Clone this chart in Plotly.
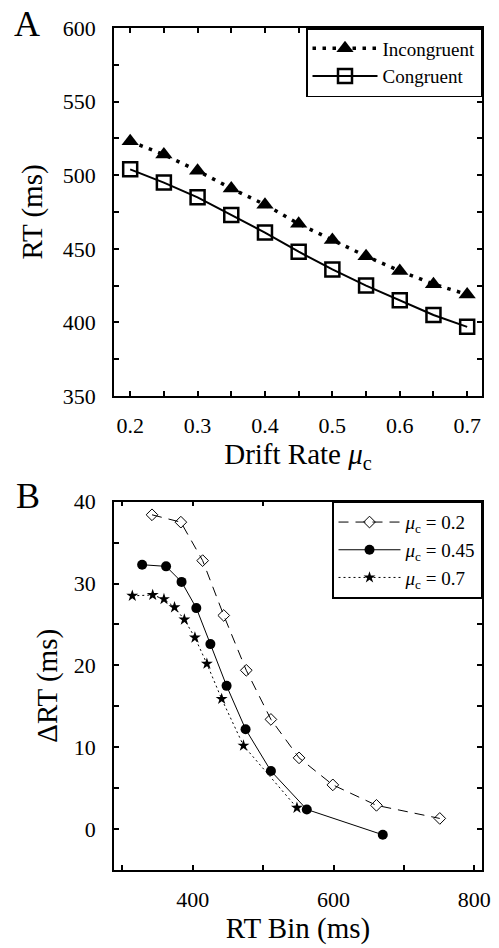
import plotly.graph_objects as go

# ---------------- data ----------------
drift_rate = [0.2, 0.25, 0.3, 0.35, 0.4, 0.45, 0.5, 0.55, 0.6, 0.65, 0.7]
rt_incongruent = [523, 514, 503, 491, 480, 467, 456, 445, 435, 426, 419]
rt_congruent = [504, 495, 485, 473, 461, 448, 436, 425, 415, 405, 397]

bin_mu02 = [342, 383, 414, 444, 476, 511, 551, 599, 661, 751]
drt_mu02 = [38.4, 37.5, 32.8, 26.1, 19.4, 13.4, 8.7, 5.4, 2.9, 1.3]
bin_mu045 = [328, 362, 384, 405, 425, 448, 475, 511, 562, 670]
drt_mu045 = [32.3, 32.1, 30.2, 27.0, 22.6, 17.5, 12.2, 7.1, 2.4, -0.7]
bin_mu07 = [314, 343, 359, 374, 388, 403, 420, 441, 472, 548]
drt_mu07 = [28.5, 28.6, 28.1, 27.1, 25.6, 23.4, 20.2, 15.9, 10.2, 2.6]

a_yticks = [350, 375, 400, 425, 450, 475, 500, 525, 550, 575, 600]
a_xticks = [0.2, 0.25, 0.3, 0.35, 0.4, 0.45, 0.5, 0.55, 0.6, 0.65, 0.7]
b_yticks = [-5, 0, 5, 10, 15, 20, 25, 30, 35, 40]
b_xticks = [300, 400, 500, 600, 700, 800]

FONT = "Liberation Serif, Times New Roman, serif"

fig = go.Figure()

# Panel A
fig.add_trace(go.Scatter(
    x=drift_rate, y=rt_incongruent, name="Incongruent", mode="lines+markers",
    line=dict(color="black", width=3.5, dash="3.5px,6.5px"),
    marker=dict(symbol="triangle-up", size=15, color="black"),
    xaxis="x", yaxis="y", legend="legend"))
fig.add_trace(go.Scatter(
    x=drift_rate, y=rt_congruent, name="Congruent", mode="lines+markers",
    line=dict(color="black", width=2),
    marker=dict(symbol="square-open", size=14, color="black", line=dict(width=2.5)),
    xaxis="x", yaxis="y", legend="legend"))

# Panel B
mu = "<i>μ</i><sub>c</sub>"
fig.add_trace(go.Scatter(
    x=bin_mu02, y=drt_mu02, name=f"{mu} = 0.2", mode="lines+markers",
    line=dict(color="black", width=1, dash="10px,7px"),
    marker=dict(symbol="diamond-open", size=9, color="black", line=dict(width=1)),
    xaxis="x2", yaxis="y2", legend="legend2"))
fig.add_trace(go.Scatter(
    x=bin_mu045, y=drt_mu045, name=f"{mu} = 0.45", mode="lines+markers",
    line=dict(color="black", width=1),
    marker=dict(symbol="circle", size=10, color="black"),
    xaxis="x2", yaxis="y2", legend="legend2"))
fig.add_trace(go.Scatter(
    x=bin_mu07, y=drt_mu07, name=f"{mu} = 0.7", mode="lines+markers",
    line=dict(color="black", width=1, dash="2px,3px"),
    marker=dict(symbol="star", size=9, color="black"),
    xaxis="x2", yaxis="y2", legend="legend2"))

W, H = 499, 948
px = lambda v: v / W
py = lambda v: 1 - v / H

axis_common = dict(
    showline=True, linecolor="black", linewidth=1.5, mirror="allticks",
    ticks="inside", ticklen=5, tickwidth=1.5, tickcolor="black",
    showgrid=False, zeroline=False, automargin=False,
    tickfont=dict(family=FONT, size=22, color="black"),
)
xaxis_common = dict(axis_common, ticklabelstandoff=9)
yaxis_common = dict(axis_common, ticklabelstandoff=12)
title_font = dict(family=FONT, size=29, color="black")

fig.update_layout(
    template="none",
    width=W, height=H,
    margin=dict(l=0, r=0, t=0, b=0, pad=0, autoexpand=False),
    paper_bgcolor="white", plot_bgcolor="white",
    font=dict(family=FONT, color="black"),
    hovermode=False,
    xaxis=dict(xaxis_common, domain=[px(114), px(482)], range=[0.176, 0.722],
               anchor="y", tickmode="array", tickvals=a_xticks,
               ticktext=[f"{v:.1f}" if i % 2 == 0 else "" for i, v in enumerate(a_xticks)],
               title=dict(text="Drift Rate <i>μ</i><sub>c</sub>", font=title_font, standoff=6)),
    yaxis=dict(yaxis_common, domain=[py(396), py(28)], range=[350, 600],
               anchor="x", tickmode="array", tickvals=a_yticks,
               ticktext=[str(v) if v % 50 == 0 else "" for v in a_yticks],
               title=dict(text="RT (ms)", font=title_font, standoff=12)),
    xaxis2=dict(xaxis_common, domain=[px(114), px(482)], range=[288, 811],
                anchor="y2", tickmode="array", tickvals=b_xticks,
                ticktext=[str(v) if v % 200 == 0 else "" for v in b_xticks],
                title=dict(text="RT Bin (ms)", font=title_font, standoff=6)),
    yaxis2=dict(yaxis_common, domain=[py(870), py(501.7)], range=[-5, 40],
                anchor="x2", tickmode="array", tickvals=b_yticks,
                ticktext=[str(v) if v % 10 == 0 else "" for v in b_yticks],
                title=dict(text="ΔRT (ms)", font=title_font, standoff=8)),
    legend=dict(x=px(482), y=py(28), xanchor="right", yanchor="top",
                bgcolor="white", bordercolor="black", borderwidth=1.5,
                font=dict(family=FONT, size=19, color="black"),
                itemwidth=65, tracegroupgap=0),
    legend2=dict(x=px(482), y=py(501.7), xanchor="right", yanchor="top",
                 bgcolor="white", bordercolor="black", borderwidth=1.5,
                 font=dict(family=FONT, size=19, color="black"),
                 itemwidth=62, tracegroupgap=0),
    annotations=[
        dict(text="A", x=px(12), y=py(2), xref="paper", yref="paper",
             xanchor="left", yanchor="top", showarrow=False,
             font=dict(family=FONT, size=36, color="black")),
        dict(text="B", x=px(14), y=py(474), xref="paper", yref="paper",
             xanchor="left", yanchor="top", showarrow=False,
             font=dict(family=FONT, size=36, color="black")),
    ],
)

fig.write_html(
    "out.html",
    config={"displayModeBar": False},
    post_script="document.body.style.margin='0';document.body.style.padding='0';",
)
